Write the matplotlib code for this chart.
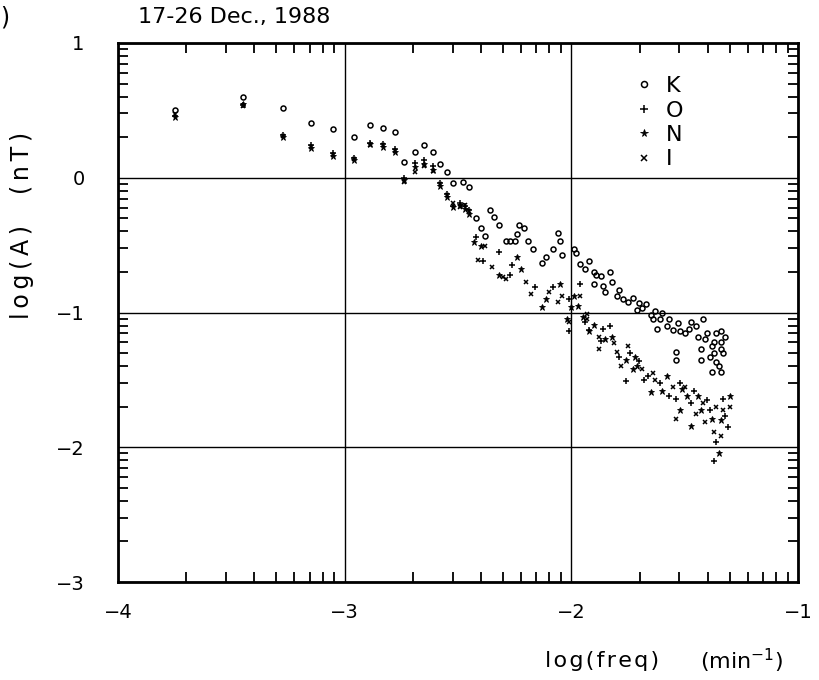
import numpy as np
import matplotlib
matplotlib.use("Agg")
import matplotlib.pyplot as plt
from matplotlib.ticker import FixedLocator, NullFormatter

# log(freq) / log(A)
k_freq = [-3.75, -3.45, -3.27, -3.15, -3.05, -2.96, -2.89, -2.83, -2.78, -2.74,
          -2.69, -2.65, -2.61, -2.58, -2.55, -2.52, -2.48, -2.45, -2.42, -2.40,
          -2.38, -2.36, -2.34, -2.32, -2.29, -2.27, -2.25, -2.24, -2.23, -2.21,
          -2.19, -2.17, -2.13, -2.11, -2.08, -2.06, -2.05, -2.04, -1.99, -1.98,
          -1.96, -1.94, -1.92, -1.90, -1.90, -1.89, -1.87, -1.86, -1.85, -1.83,
          -1.82, -1.80, -1.79, -1.77, -1.75, -1.73, -1.71, -1.70, -1.69, -1.67,
          -1.65, -1.64, -1.63, -1.62, -1.61, -1.60, -1.58, -1.57, -1.55, -1.54,
          -1.54, -1.53, -1.52, -1.50, -1.48, -1.47, -1.45, -1.44, -1.43, -1.43,
          -1.42, -1.41, -1.40, -1.39, -1.38, -1.38, -1.37, -1.37, -1.36, -1.36,
          -1.35, -1.34, -1.34, -1.34, -1.34, -1.33, -1.32]
k_amp = [0.50, 0.60, 0.52, 0.41, 0.36, 0.30, 0.39, 0.37, 0.34, 0.12,
         0.19, 0.24, 0.19, 0.10, 0.04, -0.04, -0.03, -0.07, -0.30, -0.37,
         -0.43, -0.24, -0.29, -0.35, -0.47, -0.47, -0.47, -0.42, -0.35, -0.37,
         -0.47, -0.53, -0.63, -0.59, -0.53, -0.41, -0.47, -0.57, -0.53, -0.56,
         -0.64, -0.68, -0.62, -0.70, -0.79, -0.72, -0.73, -0.80, -0.85, -0.70,
         -0.77, -0.88, -0.83, -0.90, -0.92, -0.89, -0.98, -0.93, -0.97, -0.94,
         -1.02, -1.05, -0.99, -1.12, -1.05, -1.00, -1.10, -1.05, -1.13, -1.29,
         -1.35, -1.08, -1.14, -1.15, -1.12, -1.07, -1.10, -1.18, -1.27, -1.35,
         -1.05, -1.20, -1.15, -1.33, -1.25, -1.44, -1.22, -1.30, -1.15, -1.37,
         -1.40, -1.14, -1.27, -1.44, -1.22, -1.30, -1.18]

o_freq = [-3.75, -3.45, -3.27, -3.15, -3.05, -2.96, -2.89, -2.83, -2.78, -2.74,
          -2.69, -2.65, -2.61, -2.58, -2.55, -2.52, -2.49, -2.47, -2.45, -2.42,
          -2.39, -2.32, -2.27, -2.26, -2.16, -2.08, -2.01, -2.01, -1.96, -1.92,
          -1.87, -1.83, -1.79, -1.74, -1.76, -1.66, -1.61, -1.52, -1.54, -1.47,
          -1.39, -1.36, -1.32, -1.33, -1.37, -1.94, -1.68, -1.57, -1.46, -1.40,
          -1.31, -1.70, -1.86]
o_amp = [0.46, 0.54, 0.32, 0.24, 0.18, 0.15, 0.26, 0.25, 0.21, 0.00,
         0.11, 0.13, 0.09, -0.04, -0.12, -0.21, -0.19, -0.21, -0.24, -0.44,
         -0.62, -0.55, -0.72, -0.65, -0.81, -0.81, -0.90, -1.14, -0.79, -1.13,
         -1.21, -1.10, -1.33, -1.30, -1.51, -1.47, -1.52, -1.52, -1.64, -1.67,
         -1.72, -1.96, -1.77, -1.64, -2.10, -1.07, -1.50, -1.62, -1.58, -1.65,
         -1.85, -1.36, -1.12]

n_freq = [-3.75, -3.45, -3.27, -3.15, -3.05, -2.96, -2.89, -2.83, -2.78, -2.74,
          -2.69, -2.65, -2.61, -2.58, -2.55, -2.52, -2.49, -2.47, -2.45, -2.40,
          -2.43, -2.32, -2.24, -2.22, -2.13, -2.05, -2.00, -1.99, -1.95, -1.90,
          -1.85, -1.82, -1.76, -1.72, -1.71, -1.65, -1.58, -1.51, -1.52, -1.44,
          -1.38, -1.35, -1.30, -1.47, -2.02, -1.92, -1.60, -1.49, -1.43, -1.34,
          -1.73, -1.97, -2.11]
n_amp = [0.45, 0.55, 0.30, 0.22, 0.16, 0.13, 0.25, 0.23, 0.19, -0.02,
         0.08, 0.10, 0.06, -0.06, -0.14, -0.22, -0.20, -0.23, -0.27, -0.51,
         -0.48, -0.72, -0.59, -0.68, -0.96, -0.79, -0.96, -0.88, -1.03, -1.09,
         -1.20, -1.18, -1.35, -1.33, -1.40, -1.59, -1.47, -1.57, -1.72, -1.62,
         -1.79, -2.04, -1.62, -1.84, -1.05, -1.14, -1.58, -1.62, -1.72, -1.80,
         -1.42, -0.95, -0.90]

i_freq = [-3.75, -3.45, -3.27, -3.15, -3.05, -2.96, -2.89, -2.83, -2.78, -2.74,
          -2.69, -2.65, -2.61, -2.58, -2.55, -2.52, -2.49, -2.47, -2.45, -2.41,
          -2.38, -2.30, -2.20, -2.29, -2.10, -2.04, -2.01, -1.96, -1.93, -1.88,
          -1.88, -1.80, -1.75, -1.78, -1.69, -1.63, -1.55, -1.50, -1.54, -1.42,
          -1.37, -1.34, -1.30, -1.41, -1.93, -1.64, -1.45, -1.36, -1.33, -1.81,
          -2.06, -2.18, -2.35]
i_amp = [0.47, 0.53, 0.31, 0.23, 0.17, 0.14, 0.24, 0.24, 0.20, -0.03,
         0.04, 0.09, 0.05, -0.05, -0.13, -0.19, -0.22, -0.20, -0.25, -0.61,
         -0.51, -0.74, -0.77, -0.75, -0.85, -0.88, -1.07, -0.88, -1.05, -1.18,
         -1.27, -1.29, -1.25, -1.40, -1.42, -1.50, -1.55, -1.55, -1.79, -1.67,
         -1.89, -1.92, -1.70, -1.81, -1.01, -1.45, -1.75, -1.70, -1.72, -1.23,
         -0.92, -0.86, -0.66]

x_ticks = [-4, -3, -2, -1]
y_ticks = [1, 0, -1, -2, -3]


def spaced(s, gap='\u2009'):
    # wide letter spacing like the plotter lettering
    return gap.join(s)


fig = plt.figure(figsize=(8.2, 6.8), dpi=100)
ax = fig.add_axes([118 / 820, 1 - 582 / 680, 680 / 820, 539 / 680])

ax.plot(k_freq, k_amp, 'o', ms=3.6, mfc='none', mec='black', mew=1.1, label='K')
ax.plot(o_freq, o_amp, '+', ms=4.5, color='black', mew=1.1, label='O')
ax.plot(n_freq, n_amp, '*', ms=4.5, color='black', mew=0.6, label='N')
ax.plot(i_freq, i_amp, 'x', ms=3.5, color='black', mew=1.1, label='I')

ax.set_xlim(-4, -1)
ax.set_ylim(-3, 1)

# log-style minor ticks inside every decade
minor = [d + np.log10(k) for d in range(-4, 1) for k in range(2, 10)]
ax.xaxis.set_major_locator(FixedLocator(x_ticks))
ax.yaxis.set_major_locator(FixedLocator(y_ticks))
ax.xaxis.set_minor_locator(FixedLocator(minor))
ax.yaxis.set_minor_locator(FixedLocator(minor))
ax.xaxis.set_minor_formatter(NullFormatter())
ax.yaxis.set_minor_formatter(NullFormatter())
ax.tick_params(which='both', direction='in', top=True, right=True)
ax.tick_params(which='major', length=0, labelsize=14)
ax.tick_params(axis='x', which='major', pad=15)
ax.tick_params(axis='y', which='major', pad=24)
ax.tick_params(which='minor', length=7, width=1.3)

ax.grid(True, which='major', color='black', lw=1.0)
for s in ax.spines.values():
    s.set_linewidth(2.0)

leg = ax.legend(loc='upper left', bbox_to_anchor=(0.75, 0.955), frameon=False,
                numpoints=1, fontsize=16, handlelength=0.6, handletextpad=0.7,
                labelspacing=0.2, borderaxespad=0, markerscale=1.2)

fig.text(138 / 820, 1 - 17 / 680, '17-26 Dec., 1988', fontsize=16,
         ha='left', va='center')
fig.text(0.0, 1 - 17 / 680, ')', fontsize=17, ha='left', va='center')
fig.text(22 / 820, 1 - 272 / 680, spaced('log(A)'), fontsize=17,
         rotation=90, ha='center', va='center')
fig.text(22 / 820, 1 - 163 / 680, spaced('(nT)'), fontsize=17,
         rotation=90, ha='center', va='center')
fig.text(545 / 820, 1 - 661 / 680, spaced('log(freq)', '\u200a'), fontsize=16,
         ha='left', va='center')
fig.text(700 / 820, 1 - 661 / 680, '(min$^{-1}$)', fontsize=16,
         ha='left', va='center')

fig.savefig('out.png', dpi=100)
